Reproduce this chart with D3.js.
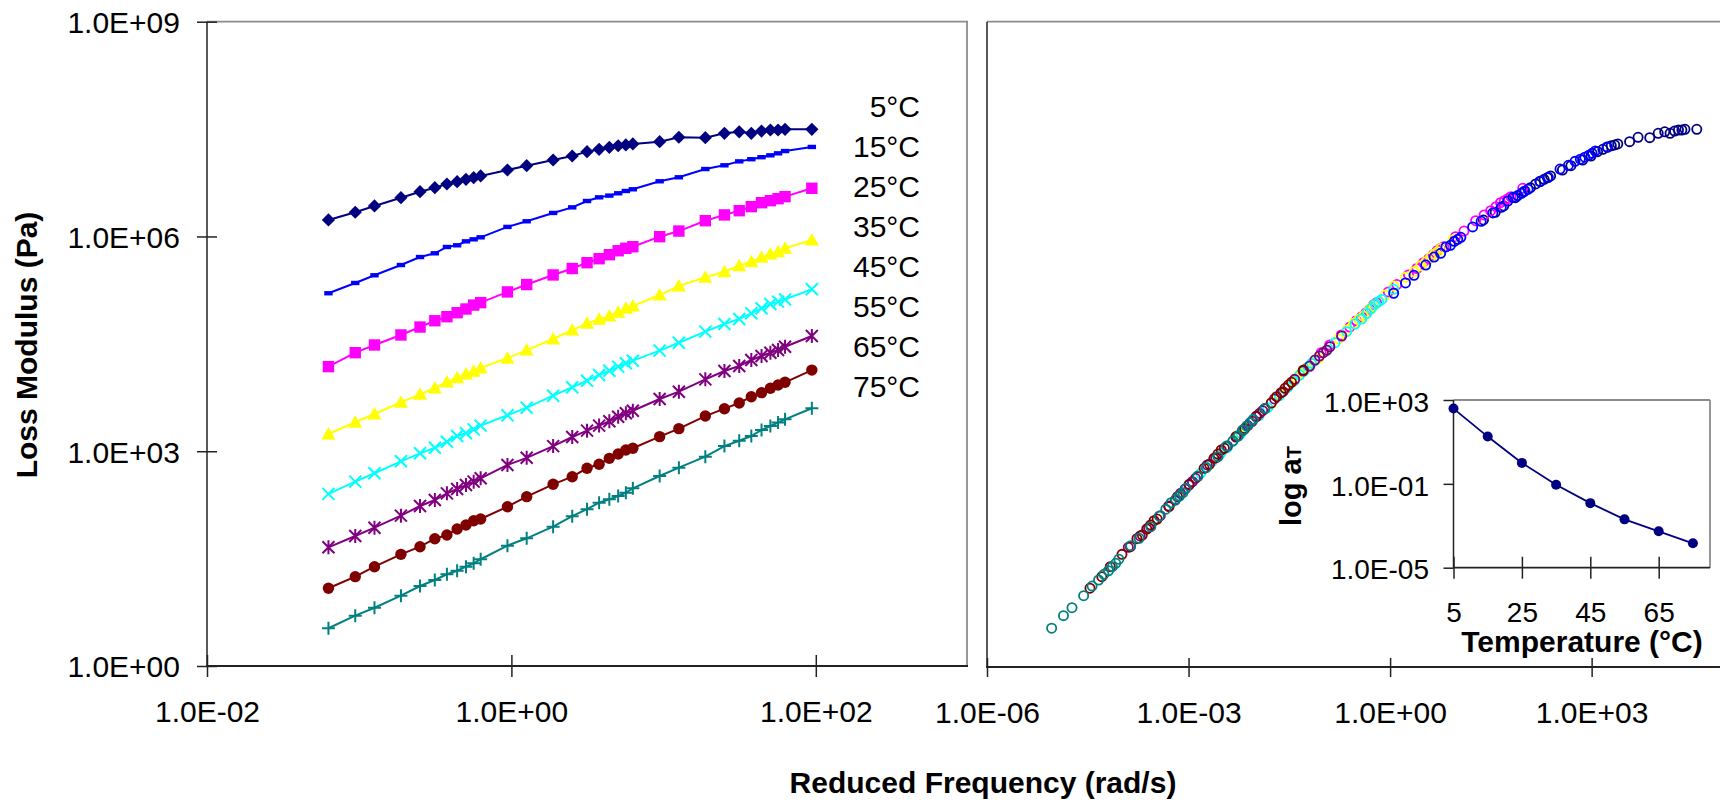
<!DOCTYPE html>
<html>
<head>
<meta charset="utf-8">
<script src="https://cdn.jsdelivr.net/npm/d3@7"></script>
<style>
body { margin: 0; background: #fff; }
svg text { font-family: Arial, "Liberation Sans", sans-serif; fill: #000; }
</style>
</head>
<body>
<div id="chart"></div>
<script>
// test frequencies (rad/s)
const freq = [0.0628, 0.0942, 0.126, 0.188, 0.251, 0.314, 0.377, 0.440, 0.503, 0.565, 0.628,
              0.942, 1.26, 1.88, 2.51, 3.14, 3.77, 4.40, 5.03, 5.65, 6.28,
              9.42, 12.6, 18.8, 25.1, 31.4, 37.7, 44.0, 50.3, 56.5, 62.8, 94.2];

// loss modulus (Pa) for each temperature
const g5  = [1.70e6, 2.18e6, 2.67e6, 3.48e6, 4.22e6, 4.80e6, 5.41e6, 5.82e6, 6.29e6, 6.62e6, 7.00e6,
             8.48e6, 9.75e6, 1.17e7, 1.33e7, 1.53e7, 1.65e7, 1.76e7, 1.85e7, 1.90e7, 1.96e7,
             2.11e7, 2.43e7, 2.40e7, 2.76e7, 2.90e7, 2.76e7, 2.97e7, 3.07e7, 3.07e7, 3.14e7, 3.14e7];
const g15 = [1.61e5, 2.24e5, 2.87e5, 3.99e5, 5.16e5, 5.82e5, 7.13e5, 7.53e5, 8.55e5, 9.12e5, 9.73e5,
             1.36e6, 1.63e6, 2.13e6, 2.55e6, 3.13e6, 3.52e6, 3.72e6, 4.01e6, 4.32e6, 4.56e6,
             5.90e6, 6.71e6, 8.75e6, 9.86e6, 1.12e7, 1.20e7, 1.28e7, 1.36e7, 1.45e7, 1.56e7, 1.78e7];
const g25 = [1.52e4, 2.38e4, 3.05e4, 4.21e4, 5.43e4, 6.65e4, 7.57e4, 8.61e4, 9.70e4, 1.10e5, 1.19e5,
             1.68e5, 2.13e5, 2.90e5, 3.57e5, 4.30e5, 4.89e5, 5.56e5, 6.32e5, 6.84e5, 7.19e5,
             9.93e5, 1.19e6, 1.66e6, 2.00e6, 2.29e6, 2.61e6, 2.96e6, 3.16e6, 3.37e6, 3.60e6, 4.71e6];
const g35 = [1.74e3, 2.54e3, 3.31e3, 4.83e3, 6.24e3, 7.64e3, 9.27e3, 1.06e4, 1.20e4, 1.31e4, 1.46e4,
             1.99e4, 2.59e4, 3.70e4, 4.93e4, 6.12e4, 6.97e4, 7.74e4, 8.73e4, 9.93e4, 1.07e5,
             1.52e5, 2.03e5, 2.69e5, 3.22e5, 3.91e5, 4.44e5, 5.12e5, 5.69e5, 6.12e5, 6.84e5, 8.93e5];
const g45 = [254, 376, 492, 723, 935, 1.12e3, 1.36e3, 1.63e3, 1.78e3, 2.02e3, 2.28e3,
             3.18e3, 4.06e3, 5.97e3, 7.82e3, 9.67e3, 1.16e4, 1.33e4, 1.52e4, 1.69e4, 1.84e4,
             2.54e4, 3.28e4, 4.68e4, 5.98e4, 7.03e4, 8.45e4, 9.93e4, 1.14e5, 1.23e5, 1.32e5, 1.83e5];
const g55 = [45.5, 65.5, 85.5, 126, 172, 208, 258, 297, 337, 376, 419,
             643, 809, 1.18e3, 1.58e3, 1.94e3, 2.28e3, 2.62e3, 3.03e3, 3.39e3, 3.68e3,
             5.37e3, 6.79e3, 1.01e4, 1.32e4, 1.55e4, 1.88e4, 2.14e4, 2.38e4, 2.59e4, 2.88e4, 4.07e4];
const g65 = [12.2, 17.7, 24.4, 36.3, 46.4, 60.0, 67.6, 82.0, 93.3, 107, 113,
             168, 232, 345, 441, 578, 658, 796, 914, 1.04e3, 1.10e3,
             1.60e3, 2.07e3, 3.10e3, 3.93e3, 4.72e3, 5.78e3, 6.58e3, 7.57e3, 8.41e3, 9.18e3, 1.36e4];
const g75 = [3.37, 5.05, 6.52, 9.59, 13.1, 15.9, 19.1, 21.4, 24.4, 27.2, 31.0,
             48.0, 60.8, 88.3, 124, 155, 191, 213, 237, 264, 303,
             451, 589, 839, 1.18e3, 1.40e3, 1.63e3, 1.98e3, 2.25e3, 2.51e3, 2.79e3, 3.98e3];

const temps = [5, 15, 25, 35, 45, 55, 65, 75];
// shift factors aT (inset), reference 25°C
const aT = [390, 18, 1.0, 0.091, 0.012, 0.00202, 0.000543, 0.000146];

const colors  = ["#000080", "#0000FF", "#FF00FF", "#FFFF00", "#00FFFF", "#800080", "#800000", "#008080"];
const markers = ["diamond", "dash", "square", "triangle", "x", "star", "circle", "plus"];
// 15°C was added as the last series, so it is drawn on top
const drawOrder = [0, 2, 3, 4, 5, 6, 7, 1];

const xTicksL = [1e-2, 1e0, 1e2];
const yTicks = [1e0, 1e3, 1e6, 1e9];
const xTicksR = [1e-6, 1e-3, 1e0, 1e3];
const yTicksIn = [1e-5, 1e-1, 1e3];
const xTicksIn = [5, 25, 45, 65];

const gData = [g5, g15, g25, g35, g45, g55, g65, g75];
const series = temps.map((t, i) => ({
    temp: t, color: colors[i], marker: markers[i], aT: aT[i],
    pts: freq.map((f, j) => ({f: f, g: gData[i][j]}))
}));

const svg = d3.select("#chart").append("svg")
    .attr("width", 1720).attr("height", 804);

const axisCol = "#222", borderCol = "#8c8c8c";

const xL = d3.scaleLog().domain([1e-2, 1e3]).range([207, 968]);
const yG = d3.scaleLog().domain([1, 1e9]).range([666, 21.7]);
const xR = d3.scaleLog().domain([1e-6, 1e5]).range([987, 1726]);
const xIn = d3.scaleLinear().domain([5, 80]).range([1453.5, 1710]);
const yIn = d3.scaleLog().domain([1e-5, 1e3]).range([567.7, 400]);

function fmtE(v) {
    const e = Math.round(Math.log10(v));
    return "1.0E" + (e < 0 ? "-" : "+") + String(Math.abs(e)).padStart(2, "0");
}

function markerPath(type) {
    switch (type) {
        case "diamond": return "M0,-6.6L6.6,0L0,6.6L-6.6,0Z";
        case "square": return "M-5.7,-5.7h11.4v11.4h-11.4Z";
        case "triangle": return "M0,-7L7,5.5L-7,5.5Z";
        case "dash": return "M-4.2,-2.2h8.4v4.4h-8.4Z";
        case "circle": return "M5.7,0A5.7,5.7 0 1,1 -5.7,0A5.7,5.7 0 1,1 5.7,0Z";
        case "x": return "M-6,-6L6,6M-6,6L6,-6";
        case "star": return "M-6,-6L6,6M-6,6L6,-6M0,-7L0,7";
        case "plus": return "M-6.5,0L6.5,0M0,-6.5L0,6.5";
    }
}
const stroked = {x: true, star: true, plus: true};

function cleanAxis(g) {
    g.attr("font-size", null).attr("font-family", null);
    g.select(".domain").remove();
    g.selectAll(".tick line").attr("stroke", axisCol).attr("stroke-width", 1.5);
}

// ---------- left panel ----------
const left = svg.append("g");

left.append("line").attr("x1", 207).attr("x2", 968).attr("y1", 21.7).attr("y2", 21.7)
    .attr("stroke", borderCol).attr("stroke-width", 1.8);
left.append("line").attr("x1", 967).attr("x2", 967).attr("y1", 21.7).attr("y2", 666)
    .attr("stroke", borderCol).attr("stroke-width", 1.8);

left.append("g").attr("transform", "translate(207,0)")
    .call(d3.axisLeft(yG).tickValues(yTicks).tickFormat(fmtE).tickSize(10).tickPadding(17))
    .call(cleanAxis)
    .call(g => g.selectAll(".tick line").attr("x1", 10))
    .call(g => g.selectAll(".tick text").style("font-size", "30px").attr("dy", "0.36em"));

left.append("g").attr("transform", "translate(0,666)")
    .call(d3.axisBottom(xL).tickValues(xTicksL).tickFormat(fmtE).tickSize(11))
    .call(cleanAxis)
    .call(g => g.selectAll(".tick line").attr("y1", -11))
    .call(g => g.selectAll(".tick text").style("font-size", "30px").attr("y", 56).attr("dy", null));

left.append("line").attr("x1", 207).attr("x2", 207).attr("y1", 21.7).attr("y2", 666)
    .attr("stroke", axisCol).attr("stroke-width", 1.5);
left.append("line").attr("x1", 206).attr("x2", 968).attr("y1", 666).attr("y2", 666)
    .attr("stroke", axisCol).attr("stroke-width", 2);

const line = d3.line().x(d => xL(d.f)).y(d => yG(d.g));

drawOrder.forEach(i => {
    const s = series[i];
    left.append("path").datum(s.pts)
        .attr("d", line)
        .attr("fill", "none")
        .attr("stroke", s.color)
        .attr("stroke-width", 2);
    left.append("g").selectAll("path")
        .data(s.pts)
        .enter()
        .append("path")
        .attr("transform", d => `translate(${xL(d.f)},${yG(d.g)})`)
        .attr("d", markerPath(s.marker))
        .attr("fill", stroked[s.marker] ? "none" : s.color)
        .attr("stroke", stroked[s.marker] ? s.color : "none")
        .attr("stroke-width", 2);
});

// temperature labels
left.append("g").selectAll("text")
    .data(temps)
    .enter()
    .append("text")
    .attr("x", 920)
    .attr("y", (d, i) => 117 + i * 40)
    .attr("text-anchor", "end")
    .style("font-size", "30px")
    .text(d => d + "°C");

// ---------- right panel (master curve) ----------
const right = svg.append("g");

right.append("line").attr("x1", 987).attr("x2", 1726).attr("y1", 21.7).attr("y2", 21.7)
    .attr("stroke", borderCol).attr("stroke-width", 1.8);

right.append("g").attr("transform", "translate(0,667)")
    .call(d3.axisBottom(xR).tickValues(xTicksR).tickFormat(fmtE).tickSize(10))
    .call(cleanAxis)
    .call(g => g.selectAll(".tick line").attr("y1", -9))
    .call(g => g.selectAll(".tick text").style("font-size", "30px").attr("y", 56).attr("dy", null));

right.append("line").attr("x1", 987).attr("x2", 987).attr("y1", 21.7).attr("y2", 667)
    .attr("stroke", axisCol).attr("stroke-width", 1.5);
right.append("line").attr("x1", 986).attr("x2", 1726).attr("y1", 667).attr("y2", 667)
    .attr("stroke", axisCol).attr("stroke-width", 2.2);

drawOrder.forEach(i => {
    const s = series[i];
    right.append("g").selectAll("circle")
        .data(s.pts)
        .enter()
        .append("circle")
        .attr("cx", d => xR(d.f * s.aT))
        .attr("cy", d => yG(d.g))
        .attr("r", 4.6)
        .attr("fill", "none")
        .attr("stroke", s.color)
        .attr("stroke-width", 1.8);
});

// ---------- inset: shift factors ----------
const inset = svg.append("g");
const inPts = temps.map((t, i) => ({t: t, a: aT[i]}));

inset.append("rect").attr("x", 1453.5).attr("y", 400).attr("width", 256.5).attr("height", 167.7)
    .attr("fill", "#fff");
inset.append("line").attr("x1", 1453.5).attr("x2", 1710).attr("y1", 400).attr("y2", 400)
    .attr("stroke", borderCol).attr("stroke-width", 1.8);
inset.append("line").attr("x1", 1710).attr("x2", 1710).attr("y1", 400).attr("y2", 567.7)
    .attr("stroke", borderCol).attr("stroke-width", 1.8);

inset.append("g").attr("transform", "translate(1453.5,0)")
    .call(d3.axisLeft(yIn).tickValues(yTicksIn).tickFormat(fmtE).tickSize(10).tickPadding(14.5))
    .call(cleanAxis)
    .call(g => g.selectAll(".tick text").style("font-size", "28px").attr("dy", "0.4em"));

inset.append("g").attr("transform", "translate(0,567.7)")
    .call(d3.axisBottom(xIn).tickValues(xTicksIn).tickFormat(d3.format("d")).tickSize(11))
    .call(cleanAxis)
    .call(g => g.selectAll(".tick line").attr("y1", -11))
    .call(g => g.selectAll(".tick text").style("font-size", "28px").attr("y", 54).attr("dy", null));

inset.append("line").attr("x1", 1453.5).attr("x2", 1453.5).attr("y1", 400).attr("y2", 567.7)
    .attr("stroke", axisCol).attr("stroke-width", 1.5);
inset.append("line").attr("x1", 1453).attr("x2", 1710).attr("y1", 567.7).attr("y2", 567.7)
    .attr("stroke", axisCol).attr("stroke-width", 1.8);

inset.append("path").datum(inPts)
    .attr("d", d3.line().x(d => xIn(d.t)).y(d => yIn(d.a)))
    .attr("fill", "none")
    .attr("stroke", "#000080")
    .attr("stroke-width", 1.8);
inset.append("g").selectAll("circle")
    .data(inPts)
    .enter()
    .append("circle")
    .attr("cx", d => xIn(d.t))
    .attr("cy", d => yIn(d.a))
    .attr("r", 5)
    .attr("fill", "#000080");

const logLabel = inset.append("text")
    .attr("transform", "translate(1301,486) rotate(-90)")
    .attr("text-anchor", "middle")
    .style("font-size", "29px")
    .style("font-weight", "bold");
logLabel.append("tspan").text("log a");
logLabel.append("tspan").style("font-size", "20px").text("T");

inset.append("text")
    .attr("x", 1582).attr("y", 652)
    .attr("text-anchor", "middle")
    .style("font-size", "30px")
    .style("font-weight", "bold")
    .text("Temperature (°C)");

// ---------- axis titles ----------
svg.append("text")
    .attr("transform", "translate(37,345) rotate(-90)")
    .attr("text-anchor", "middle")
    .style("font-size", "30px")
    .style("font-weight", "bold")
    .text("Loss Modulus (Pa)");

svg.append("text")
    .attr("x", 983).attr("y", 793)
    .attr("text-anchor", "middle")
    .style("font-size", "30px")
    .style("font-weight", "bold")
    .text("Reduced Frequency (rad/s)");
</script>
</body>
</html>
